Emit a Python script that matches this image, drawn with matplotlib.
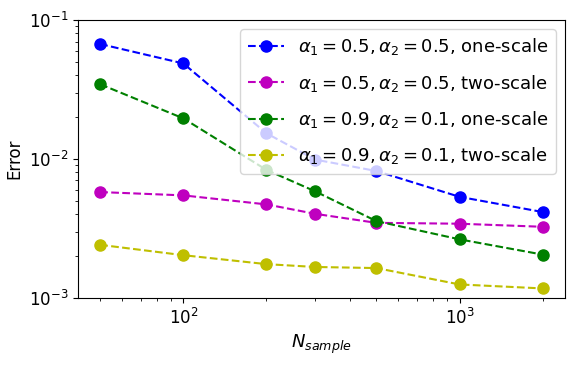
import numpy as np
import matplotlib.pyplot as plt

# numero de muestras y errores
n_sample = [50, 100, 200, 300, 500, 1000, 2000]

err_05_one = [0.0672, 0.0487, 0.0153, 0.0099, 0.00819, 0.00534, 0.00415]
err_05_two = [0.00578, 0.00547, 0.00471, 0.00403, 0.00347, 0.00342, 0.00325]
err_09_one = [0.0345, 0.0196, 0.00834, 0.00585, 0.00357, 0.00264, 0.00205]
err_09_two = [0.00241, 0.00203, 0.00175, 0.00167, 0.00164, 0.00125, 0.00117]

labels = [r'$\alpha_1 = 0.5, \alpha_2 = 0.5$, one-scale',
          r'$\alpha_1 = 0.5, \alpha_2 = 0.5$, two-scale',
          r'$\alpha_1 = 0.9, \alpha_2 = 0.1$, one-scale',
          r'$\alpha_1 = 0.9, \alpha_2 = 0.1$, two-scale']

fig = plt.figure(figsize=(5.74, 3.71), dpi=100)
ax = fig.add_axes([0.136, 0.197, 0.848, 0.749])

ax.loglog(n_sample, err_05_one, 'b--o', markersize=8, label=labels[0])
ax.loglog(n_sample, err_05_two, 'm--o', markersize=8, label=labels[1])
ax.loglog(n_sample, err_09_one, 'g--o', markersize=8, label=labels[2])
ax.loglog(n_sample, err_09_two, 'y--o', markersize=8, label=labels[3])

ax.set_ylim(1e-3, 1e-1)
ax.set_xlabel(r'$N_{sample}$', fontsize=13)
ax.set_ylabel('Error', fontsize=12)
ax.tick_params(labelsize=12)
ax.legend(loc='upper right', fontsize=13, labelspacing=0.85)

fig.savefig('out.png', dpi=100)
